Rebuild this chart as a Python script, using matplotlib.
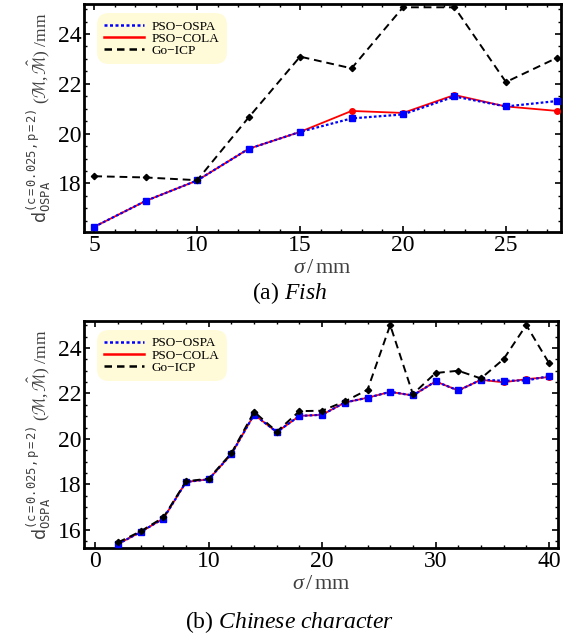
import matplotlib
matplotlib.use("Agg")
import matplotlib.pyplot as plt
from matplotlib.lines import Line2D
from matplotlib.ticker import MultipleLocator

plt.rcParams['font.family'] = ['Liberation Serif', 'DejaVu Serif']
plt.rcParams['mathtext.fontset'] = 'custom'
plt.rcParams['mathtext.rm'] = 'Liberation Serif'
plt.rcParams['mathtext.it'] = 'Liberation Serif:italic'
plt.rcParams['mathtext.sf'] = 'DejaVu Sans'
plt.rcParams['mathtext.tt'] = 'DejaVu Sans Mono'
plt.rcParams['mathtext.fallback'] = 'stix'

# (a) Fish
fish_sigma = [5, 7.5, 10, 12.5, 15, 17.5, 20, 22.5, 25, 27.5]
fish_ospa = [16.26, 17.30, 18.12, 19.39, 20.07, 20.61, 20.77, 21.49, 21.09, 21.31]
fish_cola = [16.26, 17.30, 18.12, 19.39, 20.07, 20.91, 20.83, 21.55, 21.09, 20.91]
fish_goicp = [18.29, 18.24, 18.13, 20.65, 23.09, 22.62, 25.07, 25.07, 22.07, 23.05]

# (b) Chinese character
chn_sigma = [2, 4, 6, 8, 10, 12, 14, 16, 18, 20, 22, 24, 26, 28, 30, 32, 34, 36, 38, 40]
chn_ospa = [15.37, 15.90, 16.49, 18.10, 18.22, 19.33, 21.07, 20.30, 21.01, 21.06,
            21.60, 21.81, 22.07, 21.91, 22.53, 22.13, 22.60, 22.56, 22.57, 22.76]
chn_cola = [15.37, 15.90, 16.49, 18.10, 18.22, 19.33, 21.07, 20.30, 21.01, 21.06,
            21.60, 21.81, 22.07, 21.91, 22.53, 22.13, 22.60, 22.49, 22.63, 22.72]
chn_goicp = [15.44, 15.93, 16.54, 18.13, 18.25, 19.37, 21.19, 20.32, 21.22, 21.24,
             21.65, 22.16, 25.01, 21.97, 22.90, 23.00, 22.66, 23.51, 25.01, 23.34]

labels = ["PSO\u2212OSPA", "PSO\u2212COLA", "Go\u2212ICP"]
YLABEL = (r"$\mathsf{d}_{\mathtt{OSPA}}^{\mathtt{(c=0.025,p=2)}}"
          r"\ (\mathcal{M},\hat{\mathcal{M}})\ \mathrm{/mm}$")
LABEL_COLOR = "#404040"


def draw_panel(ax, x, ospa, cola, goicp, xlim, ylim, xmajor, xminor, yticks):
    ax.plot(x, cola, color="red", lw=1.3, marker="o", ms=4, zorder=3)
    ax.plot(x, ospa, color="blue", lw=1.6, ls=(0, (1.2, 1.0)), marker="s", ms=4, zorder=4)
    ax.plot(x, goicp, color="black", lw=1.4, ls=(0, (4, 2.5)), marker="D", ms=3.2, zorder=5)

    ax.set_xlim(*xlim)
    ax.set_ylim(*ylim)
    ax.xaxis.set_major_locator(MultipleLocator(xmajor))
    ax.xaxis.set_minor_locator(MultipleLocator(xminor))
    ax.set_yticks(yticks)
    ax.yaxis.set_minor_locator(MultipleLocator(0.5))
    ax.tick_params(which="both", direction="in", top=True, right=True, labelsize=17, pad=2)
    ax.tick_params(which="major", length=4, width=1.2)
    ax.tick_params(which="minor", length=2.2, width=1.0)
    for s in ax.spines.values():
        s.set_linewidth(2.0)

    ax.set_xlabel(r"$\sigma\,/\,\mathrm{mm}$", fontsize=16, color=LABEL_COLOR, labelpad=2)
    ax.set_ylabel(YLABEL, fontsize=12.5, color=LABEL_COLOR, labelpad=3)

    handles = [
        Line2D([], [], color="blue", lw=1.8, ls=(0, (1.2, 1.0))),
        Line2D([], [], color="red", lw=1.8),
        Line2D([], [], color="black", lw=1.8, ls=(0, (3, 2))),
    ]
    leg = ax.legend(handles, labels, loc="upper left", fontsize=9.5, frameon=True,
                    fancybox=True, facecolor="#fffbd8", edgecolor="none", framealpha=1,
                    handlelength=3.0, handletextpad=0.6, labelspacing=0.0,
                    borderpad=0.3, bbox_to_anchor=(0.02, 0.975))
    leg.get_frame().set_boxstyle("round", pad=0.25, rounding_size=0.9)


fig = plt.figure(figsize=(5.76, 6.35), dpi=100)
ax1 = fig.add_axes([0.1458, 0.6346, 0.828, 0.359])
ax2 = fig.add_axes([0.1458, 0.1365, 0.823, 0.358])

draw_panel(ax1, fish_sigma, fish_ospa, fish_cola, fish_goicp,
           (4.5, 27.67), (16.05, 25.2), 5, 1, [18, 20, 22, 24])
draw_panel(ax2, chn_sigma, chn_ospa, chn_cola, chn_goicp,
           (-1.0, 40.8), (15.18, 25.19), 10, 2, [16, 18, 20, 22, 24])

fig.text(0.503, 1 - 293 / 635, r"(a) $\mathit{Fish}$", fontsize=17, ha="center", va="center")
fig.text(0.503, 1 - 622 / 635, r"(b) $\mathit{Chinese\ character}$", fontsize=17,
         ha="center", va="center")

fig.savefig("out.png", dpi=100)
